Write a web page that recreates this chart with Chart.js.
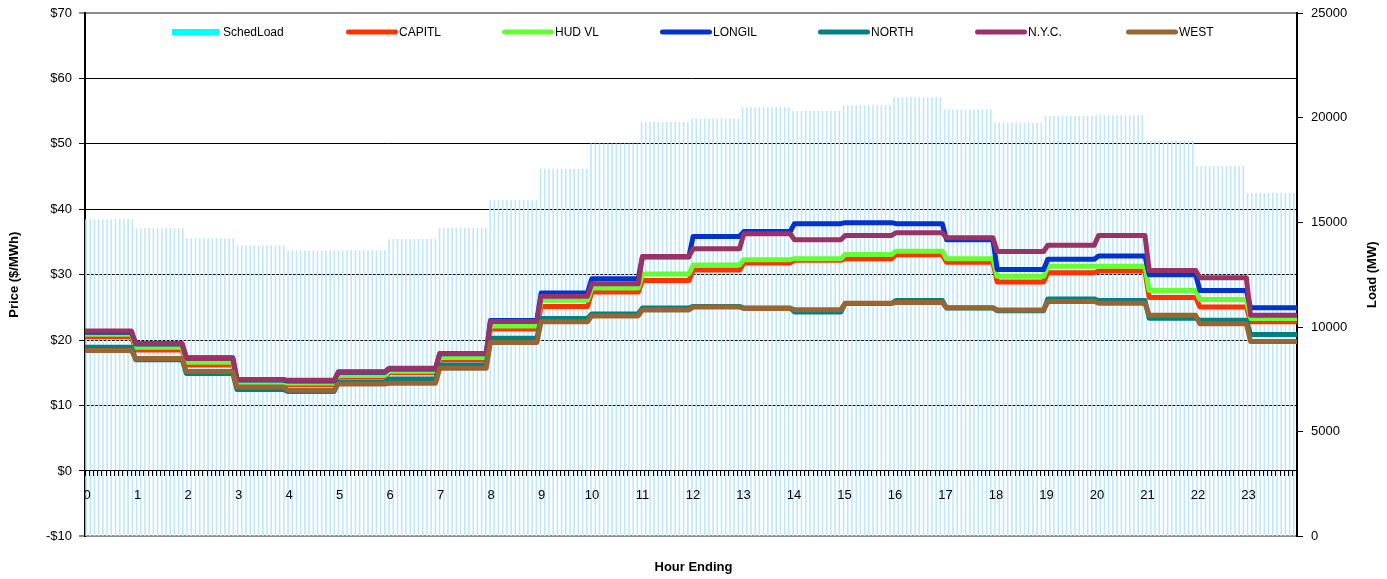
<!DOCTYPE html>
<html>
<head>
<meta charset="utf-8">
<script src="https://cdn.jsdelivr.net/npm/chart.js@4/dist/chart.umd.min.js"></script>
<style>
html,body{margin:0;padding:0;background:#fff;}
#wrap{width:1387px;height:579px;position:relative;}
</style>
</head>
<body>
<div id="wrap"><canvas id="c"></canvas></div>
<script>
// ---- data (hourly values) ----
const hourLabels = ['0','1','2','3','4','5','6','7','8','9','10','11','12','13','14','15','16','17','18','19','20','21','22','23'];
const schedLoad = [15150,14720,14240,13900,13660,13670,14200,14740,16060,17560,18770,19790,19960,20500,20320,20590,20980,20390,19770,20080,20120,18910,17690,16400];
const capitl = [20.5,18.5,16.2,13.25,13.2,14.4,15.0,17.0,21.7,25.15,27.35,29.1,30.7,31.8,32.2,32.45,33.05,31.9,28.9,30.3,30.55,26.5,25.05,22.8];
const hudVl  = [20.9,18.9,16.6,13.5,13.45,14.6,15.25,17.35,22.15,26.1,27.95,30.1,31.5,32.3,32.45,33.1,33.6,32.45,29.75,31.3,31.3,27.6,26.2,23.3];
const longil = [21.2,19.4,17.3,13.9,13.75,15.1,15.6,17.9,23.0,27.2,29.4,32.7,35.85,36.6,37.8,37.95,37.8,35.35,30.8,32.35,32.85,30.0,27.6,24.95];
const north  = [18.9,17.0,14.9,12.45,12.15,13.6,14.05,16.2,20.3,23.3,24.0,24.9,25.15,24.9,24.3,25.6,26.05,24.9,24.5,26.3,26.05,23.35,23.05,20.85];
const nyc    = [21.4,19.5,17.2,14.0,13.85,15.15,15.7,17.95,22.85,26.7,28.6,32.8,33.95,36.25,35.35,36.0,36.4,35.65,33.55,34.5,36.0,30.65,29.55,23.8];
const west   = [18.4,17.2,15.2,12.85,12.35,13.3,13.4,15.7,19.65,22.8,23.7,24.6,25.05,24.85,24.65,25.65,25.75,24.95,24.6,25.9,25.65,23.8,22.5,19.8];
const priceTicks = [-10,0,10,20,30,40,50,60,70];
const loadTicks = [0,5000,10000,15000,20000,25000];

// each hour is shown as twelve 5-minute intervals on the time axis
const SLOTS = 12;
function perInterval(arr){ const out=[]; arr.forEach(v=>{ for(let k=0;k<SLOTS;k++) out.push(v); }); return out; }
const intervalLabels = [];
hourLabels.forEach(h=>{ for(let k=0;k<SLOTS;k++) intervalLabels.push(k===0 ? h : ''); });

const FONT = '"Liberation Sans", Arial, Helvetica, sans-serif';
Chart.defaults.font.family = FONT;
Chart.defaults.font.size = 13;
Chart.defaults.color = '#000';
const tickFont = { family: FONT, size: 13, weight: 'normal' };
const titleFont = { family: FONT, size: 13, weight: 'bold' };

const legendX = [172, 346, 502, 660, 818, 975, 1126];
const LEGEND_LOAD_COLOR = '#00ffff';

const overlayPlugin = {
  id: 'overlay',
  afterDraw(chart){
    const ctx = chart.ctx, area = chart.chartArea;
    ctx.save();
    ctx.font = '12px ' + FONT;
    ctx.textBaseline = 'middle';
    ctx.textAlign = 'left';
    const y = area.top + 19;
    chart.data.datasets.forEach((ds, i) => {
      const x0 = legendX[i];
      if (ds.type === 'bar') {
        ctx.fillStyle = LEGEND_LOAD_COLOR;
        ctx.fillRect(x0, y - 3, 47, 6);
        ctx.fillStyle = '#000';
        ctx.fillText(ds.label, x0 + 51, y + 1);
      } else {
        ctx.strokeStyle = ds.borderColor;
        ctx.lineWidth = 5;
        ctx.lineCap = 'round';
        ctx.beginPath();
        ctx.moveTo(x0 + 2.5, y);
        ctx.lineTo(x0 + 49.5, y);
        ctx.stroke();
        ctx.fillStyle = '#000';
        ctx.fillText(ds.label, x0 + 53, y + 1);
      }
    });
    ctx.font = 'bold 13px ' + FONT;
    ctx.textAlign = 'center';
    ctx.translate(1372, (area.top + area.bottom) / 2);
    ctx.rotate(-Math.PI / 2);
    ctx.fillText('Load (MW)', 0, 0);
    ctx.restore();
  }
};

function lineDs(label, values, color, order){
  return {
    type: 'line', label, data: perInterval(values),
    borderColor: color, backgroundColor: color,
    borderWidth: 5, pointRadius: 0, tension: 0, fill: false,
    borderJoinStyle: 'round', borderCapStyle: 'butt',
    xAxisID: 'x2', yAxisID: 'y', order
  };
}

function fixVertical(width){
  return function(s){ s.width = width; s.paddingTop = 0; s.paddingBottom = 0; };
}

new Chart(document.getElementById('c'), {
  type: 'bar',
  data: {
    labels: intervalLabels,
    datasets: [
      { type: 'bar', label: 'SchedLoad', data: perInterval(schedLoad),
        backgroundColor: '#bfe7f9', borderWidth: 0,
        barPercentage: 0.76, categoryPercentage: 1.0,
        xAxisID: 'x', yAxisID: 'y1', order: 10 },
      lineDs('CAPITL', capitl, '#ff3300', 6),
      lineDs('HUD VL', hudVl, '#66ff33', 5),
      lineDs('LONGIL', longil, '#0033cc', 4),
      lineDs('NORTH', north, '#008080', 3),
      lineDs('N.Y.C.', nyc, '#993366', 2),
      lineDs('WEST', west, '#996633', 1)
    ]
  },
  options: {
    responsive: true,
    maintainAspectRatio: false,
    animation: false,
    events: [],
    layout: { padding: { top: 13, left: 0, right: 0, bottom: 0 } },
    plugins: {
      legend: { display: false },
      tooltip: { enabled: false },
      title: {
        display: true, text: 'Hour Ending', position: 'bottom',
        font: titleFont, color: '#000',
        padding: { top: 23, bottom: 4 }
      }
    },
    scales: {
      x: {
        type: 'category', labels: intervalLabels, offset: true,
        position: { y: 0 },
        grid: { display: true, drawOnChartArea: false, drawTicks: true, tickLength: 5, color: '#000', lineWidth: 1, z: 2 },
        border: { display: true, color: '#000', width: 1, z: 2 },
        ticks: { autoSkip: false, maxRotation: 0, minRotation: 0, padding: 12, color: '#000', font: tickFont, z: 2 },
        afterFit(s){ s.height = 0; }
      },
      x2: {
        type: 'category', labels: intervalLabels, offset: false, display: false
      },
      y: {
        type: 'linear', position: 'left', min: -10, max: 70,
        afterBuildTicks(s){ s.ticks = priceTicks.map(v => ({ value: v })); },
        ticks: {
          padding: 7, color: '#000', font: tickFont,
          callback: v => (v < 0 ? '-$' : '$') + Math.abs(v)
        },
        grid: {
          drawTicks: true, tickLength: 6,
          color: c => (c.tick && (c.tick.value === 70 || c.tick.value === -10)) ? '#8c8c8c' : '#000',
          lineWidth: c => (c.tick && (c.tick.value === 70 || c.tick.value === -10)) ? 2 : 1
        },
        border: { display: true, color: '#000', width: 2 },
        title: { display: true, text: 'Price ($/MWh)', font: titleFont, color: '#000', padding: { top: 7, bottom: 0 } },
        afterFit: fixVertical(85)
      },
      y1: {
        type: 'linear', position: 'right', min: 0, max: 25000,
        afterBuildTicks(s){ s.ticks = loadTicks.map(v => ({ value: v })); },
        ticks: { padding: 8, color: '#000', font: tickFont, callback: v => String(v) },
        grid: { drawOnChartArea: false, drawTicks: true, tickLength: 6, color: '#000' },
        border: { display: true, color: '#000', width: 2 },
        afterFit: fixVertical(90)
      }
    }
  },
  plugins: [overlayPlugin]
});
</script>
</body>
</html>
